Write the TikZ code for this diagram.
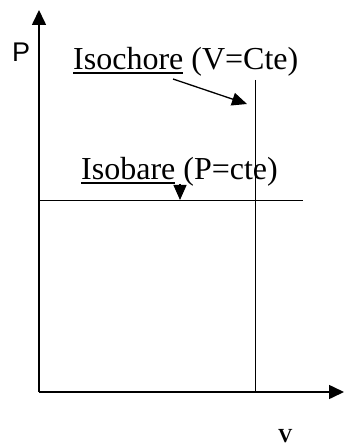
\documentclass[tikz,border=0pt]{standalone}
\usepackage{fontspec}
\setmainfont{Liberation Serif}
\newfontfamily\labelsans{Liberation Sans}
\usetikzlibrary{arrows.meta}
\newcommand\ulword[1]{\setbox0\hbox{#1}\rlap{\rule[-3.6pt]{\wd0}{1.7pt}}#1}

\begin{document}
\begin{tikzpicture}[
  x=1pt,y=-1pt,
  axis/.style={line width=1.6pt,-{Triangle[length=15pt,width=14pt]}},
  iso/.style={line width=1pt},
  pt/.style={line width=1.3pt,-{Triangle[length=15pt,width=13pt]}},
  lbl/.style={anchor=base west,inner sep=0pt,font=\fontsize{32}{38}\selectfont}
]
\useasboundingbox (0,0) rectangle (344,446);
% axes
\coordinate (O) at (39,392);
\coordinate (ytop) at (39,10);
\coordinate (xend) at (344,392);
\draw[axis] (O) -- (ytop);
\draw[axis] (O) -- (xend);
\node[anchor=base west,inner sep=0pt,font=\labelsans\fontsize{27}{32}\selectfont] (plab) at (12,62) {P};
\node[anchor=base west,inner sep=0pt,font=\fontsize{20}{24}\selectfont\bfseries] (vlab) at (278,442) {V};
% isochore and isobare
\coordinate (vtop) at (255,80);
\coordinate (vbot) at (255,392);
\coordinate (pl) at (39,200);
\coordinate (pr) at (303,200);
\draw[iso] (vtop) -- (vbot);
\draw[iso] (pl) -- (pr);
\node[lbl] (chore) at (73,70) {\ulword{Isochore} (V=Cte)};
\node[lbl] (bare) at (81,180) {\ulword{Isobare} (P=cte)};
\coordinate (chA) at (173,79);
\coordinate (chB) at (247,104);
\coordinate (baA) at (180,184);
\coordinate (baB) at (180,200);
\draw[pt] (chA) -- (chB);
\draw[pt] (baA) -- (baB);
\end{tikzpicture}
\end{document}
